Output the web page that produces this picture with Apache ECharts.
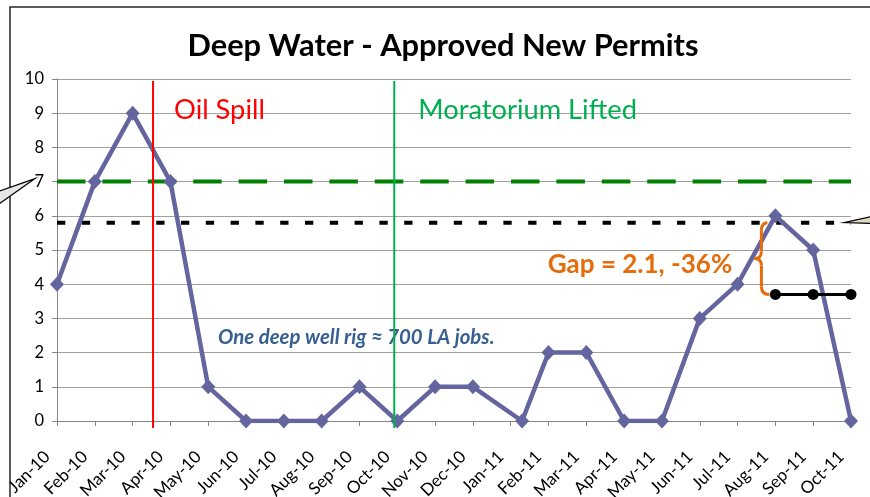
<!DOCTYPE html>
<html><head><meta charset="utf-8">
<script src="https://cdn.jsdelivr.net/npm/echarts@6/dist/echarts.min.js"></script>
<style>html,body{margin:0;padding:0;background:#fff}#c{width:870px;height:497px}</style>
</head><body><div id="c"></div>
<script>
// ---- data ----
const months = ['Jan-10','Feb-10','Mar-10','Apr-10','May-10','Jun-10','Jul-10','Aug-10','Sep-10','Oct-10','Nov-10','Dec-10','Jan-11','Feb-11','Mar-11','Apr-11','May-11','Jun-11','Jul-11','Aug-11','Sep-11','Oct-11'];
const permitX = [0,1,2,3,4,5,6,7,8,9,10,11,12.3,13,14,15,16,17,18,19,20,21];
const permits = [4,7,9,7,1,0,0,0,1,0,1,1,0,2,2,0,0,3,4,6,5,0];
const avgLevel = 7;
const refLevel = 5.8;
const recentX = [19,20,21];
const recentLevel = [3.7,3.7,3.7];
const eventX = [2.54, 8.92];
const eventNames = ['Oil Spill','Moratorium Lifted'];
const titleText = 'Deep Water - Approved New Permits';
const noteText = 'One deep well rig \u2248 700 LA jobs.';
const gapText = 'Gap = 2.1, -36%';
const yTicks = [0,1,2,3,4,5,6,7,8,9,10];

// ---- chart ----
const FONT = 'Lato';
const chart = echarts.init(document.getElementById('c'), null, {renderer: 'canvas'});
const xMax = months.length - 1;
const option = {
  animation: false,
  backgroundColor: '#fff',
  title: {
    text: titleText, left: 443, top: 31, textAlign: 'center', padding: 0,
    textStyle: {fontFamily: FONT, fontWeight: 'bold', fontSize: 30.8, color: '#000'}
  },
  grid: {left: 57, right: 19, top: 79, bottom: 76, containLabel: false, outerBoundsMode: 'none'},
  xAxis: {
    type: 'value', min: 0, max: xMax, interval: 1,
    axisLine: {show: true, lineStyle: {color: '#868686', width: 1}},
    axisTick: {show: true, length: 5, lineStyle: {color: '#868686'}},
    splitLine: {show: false},
    axisLabel: {
      rotate: 45, margin: 23, padding: [0, 14, 0, 0],
      fontFamily: FONT, fontSize: 17, color: '#000',
      formatter: v => months[Math.round(v)] || ''
    }
  },
  yAxis: {
    type: 'value', min: yTicks[0], max: yTicks[yTicks.length-1], interval: 1,
    axisLine: {show: true, lineStyle: {color: '#868686', width: 1}},
    axisTick: {show: true, length: 5, lineStyle: {color: '#868686'}},
    splitLine: {show: true, lineStyle: {color: '#A0A0A0', width: 1}},
    axisLabel: {margin: 13, fontFamily: FONT, fontSize: 16.5, color: '#000'}
  },
  series: [
    {
      name: 'avg', type: 'line', z: 2, symbol: 'none', silent: true,
      data: [[0, avgLevel], [xMax, avgLevel]],
      lineStyle: {color: '#008000', width: 4, type: [28.5, 16.9], cap: 'butt'}
    },
    {
      name: 'ref', type: 'line', z: 2, symbol: 'none', silent: true,
      data: [[0, refLevel], [xMax, refLevel]],
      lineStyle: {color: '#000', width: 4, type: [8.3, 16.5], cap: 'butt'}
    },
    {
      name: 'permits', type: 'line', z: 5,
      data: permitX.map((x, i) => [x, permits[i]]),
      symbol: 'diamond', symbolSize: [14, 15],
      itemStyle: {color: '#64649E'},
      lineStyle: {color: '#64649E', width: 4.5}
    },
    {
      name: 'recent', type: 'line', z: 6,
      data: recentX.map((x, i) => [x, recentLevel[i]]),
      symbol: 'circle', symbolSize: 11,
      itemStyle: {color: '#000'},
      lineStyle: {color: '#000', width: 3}
    }
  ]
};
chart.setOption(option);

// ---- annotations positioned through the axes ----
const px = (x, y) => chart.convertToPixel({gridIndex: 0}, [x, y]);
const top10 = px(0, 10)[1], base0 = px(0, 0)[1];
const g = [];
g.push({type: 'rect', shape: {x: 10, y: 7, width: 900, height: 600}, style: {fill: 'none', stroke: '#262626', lineWidth: 1.5}, z: 0, silent: true});
const eventColors = ['#FF0000', '#00B050'];
eventX.forEach((ex, i) => {
  const p = px(ex, 0);
  g.push({type: 'line', z: 100, shape: {x1: p[0], y1: top10 + 2, x2: p[0], y2: base0 + 7}, style: {stroke: eventColors[i], lineWidth: 2}});
  const t = px(ex, 9.1);
  g.push({type: 'text', z: 100, x: t[0] + (i === 0 ? 21 : 24), y: t[1], style: {text: eventNames[i], fill: eventColors[i], fontFamily: FONT, fontSize: 27.3, verticalAlign: 'middle', align: 'left'}});
});
const np = px(4.26, 2.45);
g.push({type: 'text', z: 50, x: np[0], y: np[1], style: {text: noteText, fill: '#376092', fontFamily: FONT, fontSize: 20.4, fontWeight: 'bold', fontStyle: 'italic', verticalAlign: 'middle', align: 'left'}});
const gp = px(12.98, 4.56);
g.push({type: 'text', z: 50, x: gp[0], y: gp[1], style: {text: gapText, fill: '#E46C0A', fontFamily: FONT, fontSize: 26, fontWeight: 'bold', verticalAlign: 'middle', align: 'left'}});
// brace
const bt = px(recentX[0], refLevel), bb = px(recentX[0], recentLevel[0]);
const bx = bt[0] - 14, yT = bt[1], yB = bb[1], yM = (yT + yB) / 2;
const braceStyle = {fill: 'none', stroke: '#E46C0A', lineWidth: 3};
g.push({type: 'bezierCurve', z: 40, shape: {x1: bx+6, y1: yT, cpx1: bx, cpy1: yT, x2: bx, y2: yT+8}, style: braceStyle});
g.push({type: 'line', z: 40, shape: {x1: bx, y1: yT+8, x2: bx, y2: yM-7}, style: braceStyle});
g.push({type: 'bezierCurve', z: 40, shape: {x1: bx, y1: yM-7, cpx1: bx, cpy1: yM, x2: bx-7, y2: yM}, style: braceStyle});
g.push({type: 'bezierCurve', z: 40, shape: {x1: bx-7, y1: yM, cpx1: bx, cpy1: yM, x2: bx, y2: yM+7}, style: braceStyle});
g.push({type: 'line', z: 40, shape: {x1: bx, y1: yM+7, x2: bx, y2: yB-8}, style: braceStyle});
g.push({type: 'bezierCurve', z: 40, shape: {x1: bx, y1: yB-8, cpx1: bx, cpy1: yB, x2: bx+8, y2: yB}, style: braceStyle});
// callouts
const c7 = px(0, avgLevel);
g.push({type: 'polygon', z: 30, shape: {points: [[c7[0]-22, c7[1]-3], [-2, c7[1]+10], [-2, c7[1]+23]]}, style: {fill: '#E6E6E6', stroke: '#000', lineWidth: 1.2}});
const cr = px(xMax, refLevel);
g.push({type: 'polygon', z: 30, shape: {points: [[cr[0]-7, cr[1]], [cr[0]+25, cr[1]-7], [cr[0]+25, cr[1]+1]]}, style: {fill: '#DDD9C3', stroke: '#000', lineWidth: 1.2}});
chart.setOption({graphic: g});
</script>
</body></html>
